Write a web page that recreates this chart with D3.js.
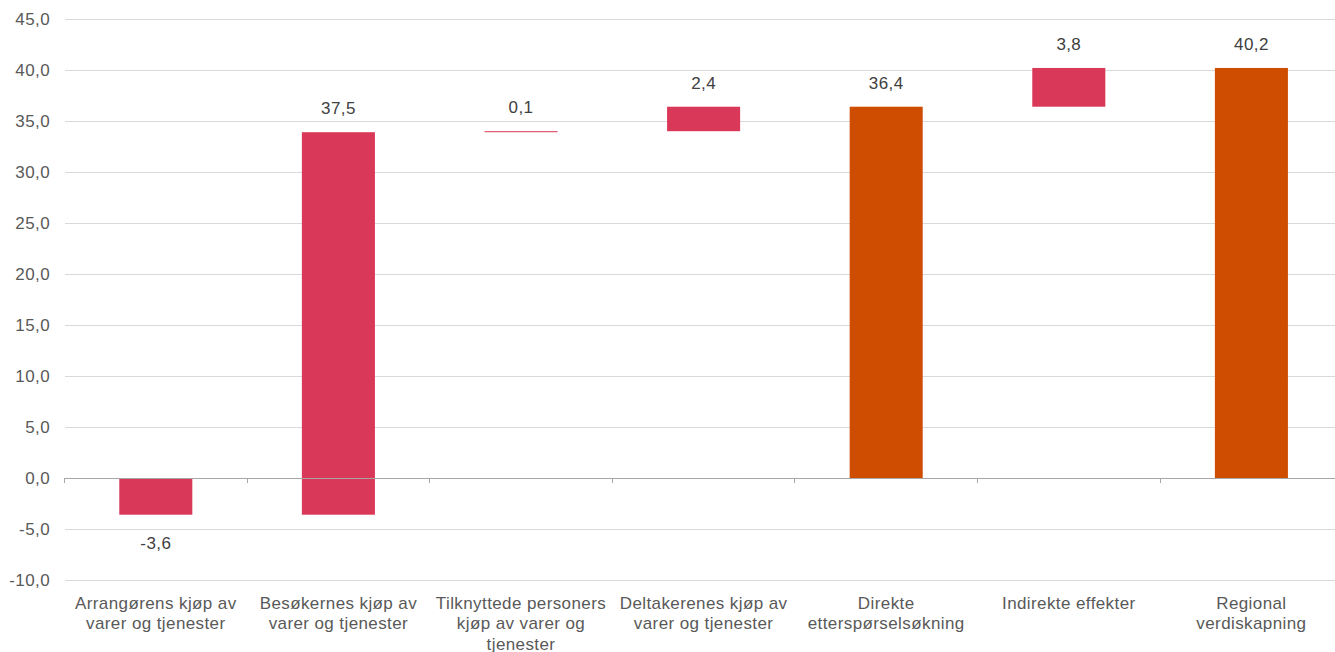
<!DOCTYPE html>
<html><head><meta charset="utf-8">
<script src="https://cdn.jsdelivr.net/npm/d3@7"></script>
<style>body{margin:0;background:#fff}svg{display:block}text{font-family:"Liberation Sans",Arial,sans-serif;fill:#595959;letter-spacing:0.4px}</style>
</head><body>
<svg id="c" width="1335" height="652"></svg>
<script>
const categories = [
  ["Arrangørens kjøp av","varer og tjenester"],
  ["Besøkernes kjøp av","varer og tjenester"],
  ["Tilknyttede personers","kjøp av varer og","tjenester"],
  ["Deltakerenes kjøp av","varer og tjenester"],
  ["Direkte","etterspørselsøkning"],
  ["Indirekte effekter"],
  ["Regional","verdiskapning"]
];
const values = [-3.6, 37.5, 0.1, 2.4, 36.4, 3.8, 40.2];
const isTotal = [false, false, false, false, true, false, true];
const yTicks = [-10,-5,0,5,10,15,20,25,30,35,40,45];

const svg = d3.select("#c");
const left = 64.5, step = 182.6, right = left + step * categories.length, gridRight = 1335;
const x = d3.scaleBand().domain(d3.range(categories.length)).range([left,right]).paddingInner(0.6).paddingOuter(0.3);
const xb = d3.scaleBand().domain(d3.range(categories.length)).range([left,right]).padding(0);
const y = d3.scaleLinear().domain([-10,45]).range([580,19]);
const fmt = v => d3.format(".1f")(v).replace(".",",").replace("−","-");

// grid
svg.append("g").selectAll("line").data(yTicks.filter(t=>t!==0)).join("line")
  .attr("x1",left).attr("x2",gridRight).attr("y1",d=>y(d)).attr("y2",d=>y(d))
  .attr("stroke","#d9d9d9").attr("stroke-width",1).attr("shape-rendering","crispEdges");
// y labels
svg.append("g").selectAll("text").data(yTicks).join("text")
  .attr("x",50).attr("y",d=>y(d)).attr("dy","0.35em").attr("text-anchor","end")
  .attr("font-size",17).text(d=>fmt(d));

// waterfall
let run = 0;
const bars = values.map((v,i)=>{
  let b0, b1;
  if (isTotal[i]) { b0 = 0; b1 = v; run = v; }
  else { b0 = run; b1 = run + v; run = b1; }
  return {i, v, b0, b1, total:isTotal[i]};
});
svg.append("g").selectAll("rect").data(bars).join("rect")
  .attr("x",d=>x(d.i)).attr("width",x.bandwidth())
  .attr("y",d=>y(Math.max(d.b0,d.b1))).attr("height",d=>Math.max(1,Math.abs(y(d.b0)-y(d.b1))))
  .attr("fill",d=>d.total?"#CF4D01":"#DA3858");

// value labels
svg.append("g").selectAll("text").data(bars).join("text")
  .attr("x",d=>x(d.i)+x.bandwidth()/2)
  .attr("y",d=>d.v<0 ? y(Math.min(d.b0,d.b1))+28 : y(Math.max(d.b0,d.b1))-24)
  .attr("dy","0.35em").attr("text-anchor","middle").attr("font-size",17)
  .style("fill","#404040")
  .text(d=>fmt(d.v));

// zero axis
const ax = svg.append("g");
ax.append("line").attr("x1",left).attr("x2",gridRight).attr("y1",y(0)).attr("y2",y(0))
  .attr("stroke","#a6a6a6").attr("shape-rendering","crispEdges");
ax.selectAll("line.t").data(d3.range(categories.length)).join("line").attr("class","t")
  .attr("x1",d=>xb(d)).attr("x2",d=>xb(d)).attr("y1",y(0)).attr("y2",y(0)+5)
  .attr("stroke","#a6a6a6").attr("shape-rendering","crispEdges");

// category labels
const cl = svg.append("g").selectAll("text").data(categories).join("text")
  .attr("x",(d,i)=>xb(i)+xb.bandwidth()/2).attr("y",603)
  .attr("text-anchor","middle").attr("font-size",17);
cl.selectAll("tspan").data(d=>d).join("tspan")
  .attr("x",function(){return this.parentNode.getAttribute("x");})
  .attr("dy",(d,j)=>j===0?"0.35em":"20.5px").text(d=>d);
</script>
</body></html>
